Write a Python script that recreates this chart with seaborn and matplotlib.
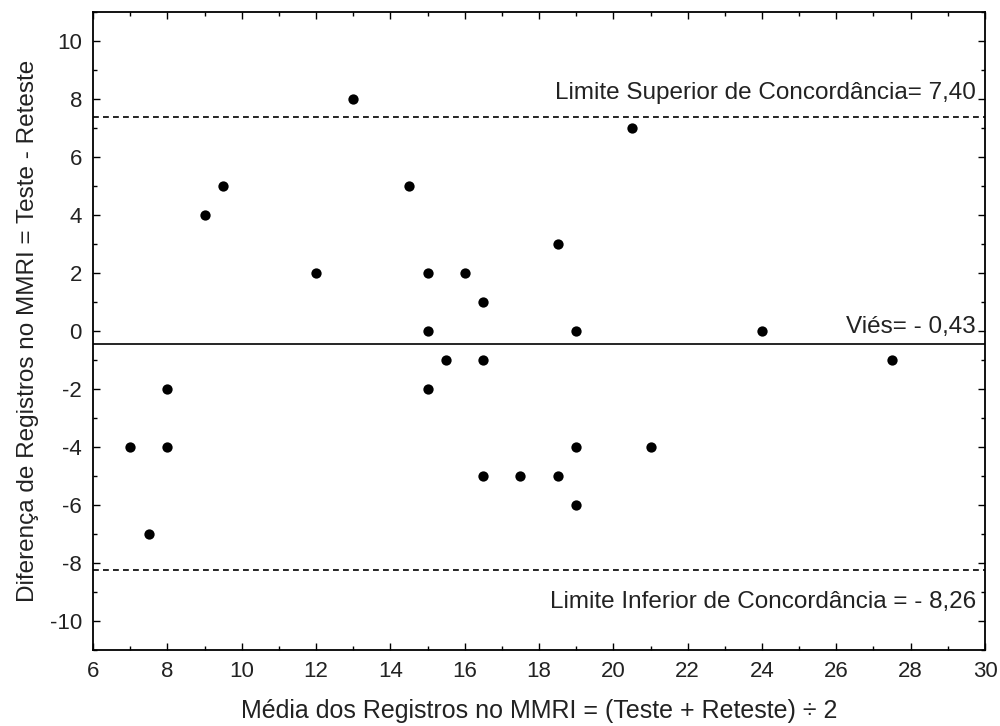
import numpy as np
import pandas as pd
import matplotlib
matplotlib.use("Agg")
import matplotlib.pyplot as plt
from matplotlib.ticker import MultipleLocator
import seaborn as sns

# Bland-Altman data: mean of test/retest vs difference
media = [7, 7.5, 8, 8, 9, 9.5, 12, 13, 14.5, 15, 15, 15, 15.5, 16,
         16.5, 16.5, 16.5, 17.5, 18.5, 18.5, 19, 19, 19, 20.5, 21, 24, 27.5]
diferenca = [-4, -7, -2, -4, 4, 5, 2, 8, 5, 2, 0, -2, -1, 2,
             1, -1, -5, -5, 3, -5, 0, -4, -6, 7, -4, 0, -1]

vies = -0.43
limite_sup = 7.40
limite_inf = -8.26

lbl_sup = "Limite Superior de Concordância= 7,40"
lbl_vies = "Viés= - 0,43"
lbl_inf = "Limite Inferior de Concordância = - 8,26"

df = pd.DataFrame({"media": media, "diferenca": diferenca})

sns.set_theme(style="ticks")
plt.rcParams["font.family"] = ["Liberation Sans", "DejaVu Sans"]
plt.rcParams["axes.unicode_minus"] = False

fig = plt.figure(figsize=(10, 7.26), dpi=100)
ax = fig.add_axes([0.093, 0.105, 0.892, 0.878])

sns.scatterplot(data=df, x="media", y="diferenca", ax=ax, color="black",
                s=55, edgecolor="black", linewidth=0, zorder=3)

ax.axhline(limite_sup, color="black", linestyle=(0, (3.5, 2.5)), linewidth=1.2)
ax.axhline(vies, color="black", linestyle="-", linewidth=1.2)
ax.axhline(limite_inf, color="black", linestyle=(0, (3.5, 2.5)), linewidth=1.2)

ax.text(29.75, limite_sup + 0.45, lbl_sup, ha="right", va="bottom", fontsize=17.5, color="#222222")
ax.text(29.75, vies + 0.2, lbl_vies, ha="right", va="bottom", fontsize=17.5, color="#222222")
ax.text(29.75, limite_inf - 0.7, lbl_inf, ha="right", va="top", fontsize=17.5, color="#222222")

ax.set_xlim(6, 30)
ax.set_ylim(-11, 11)
ax.xaxis.set_major_locator(MultipleLocator(2))
ax.xaxis.set_minor_locator(MultipleLocator(1))
ax.yaxis.set_major_locator(MultipleLocator(2))
ax.yaxis.set_minor_locator(MultipleLocator(1))
ax.tick_params(which="both", direction="in", top=True, right=True, width=1, colors="black",
               labelsize=16, labelcolor="#222222")
ax.tick_params(which="major", length=5, pad=8)
ax.tick_params(which="minor", length=3)
for side in ax.spines.values():
    side.set_linewidth(1.3)
    side.set_color("black")

ax.set_xlabel("Média dos Registros no MMRI = (Teste + Reteste) ÷ 2", fontsize=18, color="#222222", labelpad=12)
ax.set_ylabel("Diferença de Registros no MMRI = Teste - Reteste", fontsize=17.5, color="#222222", labelpad=8)

fig.savefig("out.png", dpi=100, facecolor="white")
